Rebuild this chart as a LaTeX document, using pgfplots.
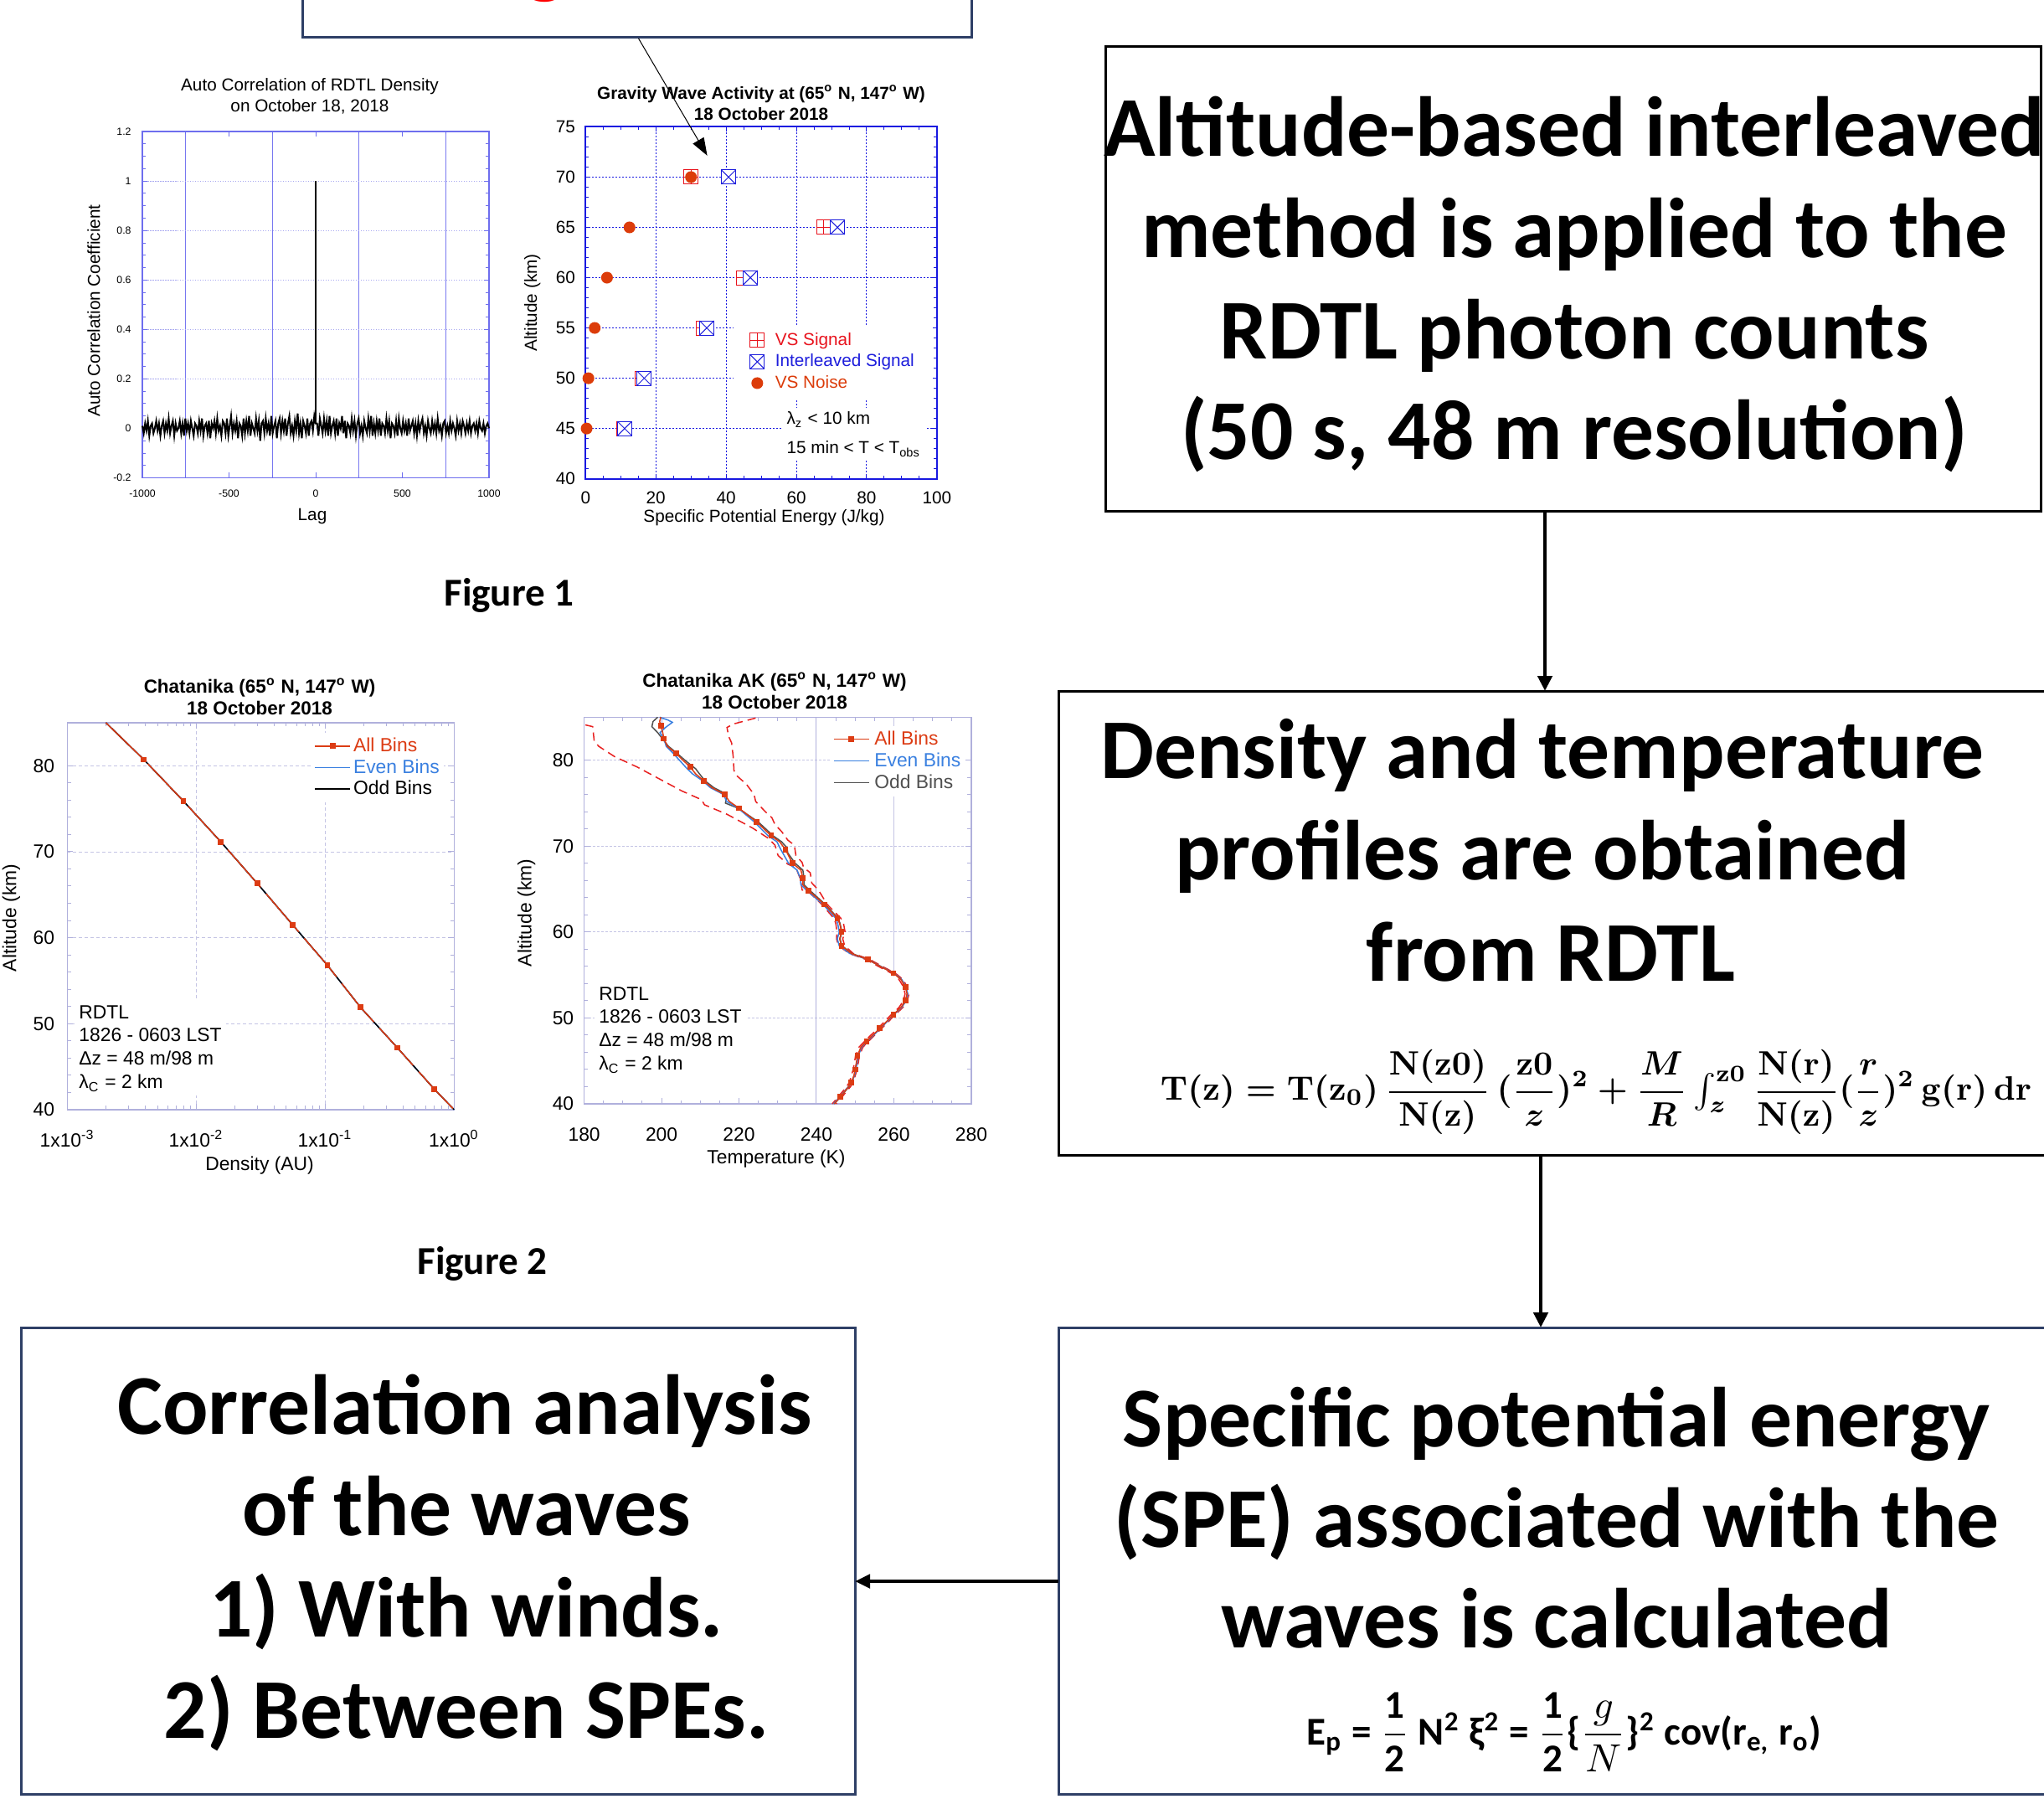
\documentclass[border=0pt]{standalone}
\usepackage{fontspec}
\setmainfont{Liberation Sans}
\newfontfamily\calib{Carlito}
\usepackage{pgfplots}
\pgfplotsset{compat=1.18}
\usetikzlibrary{arrows.meta}

\definecolor{acframe}{HTML}{6E6EEE}
\definecolor{acgridv}{HTML}{7878F0}
\definecolor{acgridh}{HTML}{A8A8F0}
\definecolor{gwblue}{HTML}{1818E0}
\definecolor{vsred}{HTML}{E8141E}
\definecolor{ilblue}{HTML}{1E1EDC}
\definecolor{noisec}{HTML}{DC3C0A}
\definecolor{lavframe}{HTML}{B0B0DC}
\definecolor{lavgrid}{HTML}{C4C4E4}
\definecolor{allc}{HTML}{DC3C14}
\definecolor{evenc}{HTML}{3A80E0}
\definecolor{oddc}{HTML}{505050}
\definecolor{dashc}{HTML}{E82020}
\definecolor{navy}{HTML}{2E3F66}

\newcommand\cfA{\fontsize{5.9}{7.1}\selectfont}
\newcommand\cfB{\fontsize{5.9}{7.1}\selectfont}
\newcommand\cfC{\fontsize{6.5}{7.8}\selectfont}
\newcommand\bigtext{\calib\bfseries\fontsize{28.9}{34}\selectfont}

% open square with a plus / with a cross
\pgfdeclareplotmark{boxplus}{%
  \pgfpathrectangle{\pgfqpoint{-\pgfplotmarksize}{-\pgfplotmarksize}}{\pgfqpoint{2\pgfplotmarksize}{2\pgfplotmarksize}}%
  \pgfusepathqfillstroke
  \pgfpathmoveto{\pgfqpoint{-\pgfplotmarksize}{0pt}}\pgfpathlineto{\pgfqpoint{\pgfplotmarksize}{0pt}}%
  \pgfpathmoveto{\pgfqpoint{0pt}{-\pgfplotmarksize}}\pgfpathlineto{\pgfqpoint{0pt}{\pgfplotmarksize}}%
  \pgfusepathqstroke}
\pgfdeclareplotmark{boxtimes}{%
  \pgfpathrectangle{\pgfqpoint{-\pgfplotmarksize}{-\pgfplotmarksize}}{\pgfqpoint{2\pgfplotmarksize}{2\pgfplotmarksize}}%
  \pgfusepathqfillstroke
  \pgfpathmoveto{\pgfqpoint{-\pgfplotmarksize}{-\pgfplotmarksize}}\pgfpathlineto{\pgfqpoint{\pgfplotmarksize}{\pgfplotmarksize}}%
  \pgfpathmoveto{\pgfqpoint{-\pgfplotmarksize}{\pgfplotmarksize}}\pgfpathlineto{\pgfqpoint{\pgfplotmarksize}{-\pgfplotmarksize}}%
  \pgfusepathqstroke}

\pgfplotsset{
  panel/.style={scale only axis, clip=false,
    /pgf/number format/assume math mode=true, /pgf/number format/1000 sep={},
    tick align=inside},
  binlegend/.style={legend cell align=left,
    legend image code/.code={\draw[mark repeat=2,mark phase=2,##1] plot coordinates {(0mm,0mm) (2.1mm,0mm) (4.2mm,0mm)};}},
  marklegend/.style={legend cell align=left,
    legend image code/.code={\draw[##1] plot coordinates {(0mm,0mm)};}},
}

\begin{document}
\begin{tikzpicture}
\path[use as bounding box] (0mm,0mm) rectangle (244.1mm,-214.8mm);
\begin{scope}[x=0.1mm,y=-0.1mm]
  \coordinate (F1a) at (170,157);
  \coordinate (F1b) at (699.3,151.4);
  \coordinate (F2a) at (80.4,862.9);
  \coordinate (F2b) at (697.6,856.3);
\end{scope}

% ---------- Auto correlation of density ----------
\begin{axis}[panel, at={(F1a)}, anchor=north west, width=41.4mm, height=41.35mm,
  xmin=-1000, xmax=1000, ymin=-0.2, ymax=1.2,
  xtick={-1000,-500,0,500,1000}, minor xtick={-750,-250,250,750},
  ytick={-0.2,0,0.2,0.4,0.6,0.8,1,1.2}, minor y tick num=3,
  xminorgrids=true, ymajorgrids=true,
  minor x grid style={draw=acgridv, line width=0.12mm},
  major y grid style={draw=acgridh, line width=0.08mm, dash pattern=on 0.15mm off 0.15mm},
  axis line style={draw=acframe, line width=0.12mm},
  every tick/.style={draw=acframe, line width=0.08mm},
  major tick length=0.6mm, minor tick length=0.35mm,
  tick label style={font=\fontsize{3.5}{4.2}\selectfont},
  xticklabel style={yshift=-0.2mm}, yticklabel style={xshift=-0.1mm},
]
\addplot[black, line width=0.2mm] table[row sep=\\, header=false, x expr=\coordindex*8-1000, y index=0] {
0.01\\ -0.02\\ 0.02\\ -0.01\\ 0.03\\ -0.03\\ 0.01\\ 0.02\\ -0.02\\ 0.00\\
0.03\\ -0.01\\ 0.02\\ -0.03\\ 0.01\\ 0.03\\ -0.02\\ 0.02\\ -0.01\\ 0.04\\
-0.02\\ 0.01\\ 0.03\\ -0.03\\ 0.02\\ -0.01\\ 0.00\\ 0.03\\ -0.02\\ 0.02\\
-0.03\\ 0.04\\ -0.01\\ 0.02\\ -0.02\\ 0.03\\ 0.00\\ -0.03\\ 0.02\\ 0.01\\
-0.02\\ 0.03\\ -0.01\\ 0.04\\ -0.03\\ 0.01\\ 0.02\\ -0.02\\ 0.03\\ -0.04\\
0.02\\ 0.00\\ 0.03\\ -0.02\\ 0.04\\ -0.01\\ 0.01\\ -0.03\\ 0.03\\ 0.02\\
-0.02\\ 0.04\\ -0.03\\ 0.01\\ 0.05\\ -0.02\\ 0.02\\ -0.01\\ 0.03\\ -0.04\\
0.02\\ 0.01\\ -0.03\\ 0.04\\ -0.02\\ 0.03\\ -0.01\\ 0.05\\ -0.03\\ 0.02\\
0.00\\ -0.02\\ 0.04\\ -0.01\\ 0.03\\ -0.05\\ 0.02\\ 0.03\\ -0.02\\ 0.04\\
-0.01\\ 0.02\\ -0.03\\ 0.05\\ -0.02\\ 0.01\\ 0.03\\ -0.04\\ 0.02\\ 0.04\\
-0.02\\ 0.03\\ -0.01\\ 0.04\\ -0.03\\ 0.02\\ 0.05\\ -0.02\\ 0.01\\ -0.03\\
0.03\\ -0.01\\ 0.06\\ -0.02\\ 0.02\\ -0.04\\ 0.03\\ 0.01\\ -0.02\\ 0.04\\
-0.03\\ 0.02\\ 0.03\\ -0.01\\ 0.05\\ 0.02\\ 0.02\\ -0.03\\ 0.04\\ 0.01\\
-0.02\\ 0.04\\ -0.01\\ 0.03\\ -0.03\\ 0.05\\ -0.02\\ 0.01\\ 0.03\\ -0.02\\
0.04\\ -0.03\\ 0.02\\ 0.00\\ 0.05\\ -0.02\\ 0.03\\ -0.04\\ 0.02\\ 0.01\\
-0.02\\ 0.04\\ -0.01\\ 0.03\\ -0.03\\ 0.02\\ 0.04\\ -0.02\\ 0.01\\ -0.03\\
0.03\\ 0.00\\ -0.02\\ 0.04\\ -0.01\\ 0.05\\ -0.03\\ 0.02\\ -0.02\\ 0.03\\
-0.01\\ 0.04\\ -0.03\\ 0.02\\ 0.01\\ -0.02\\ 0.04\\ -0.01\\ 0.03\\ -0.04\\
0.02\\ 0.01\\ -0.02\\ 0.03\\ -0.03\\ 0.04\\ 0.00\\ -0.02\\ 0.03\\ -0.01\\
0.02\\ -0.03\\ 0.04\\ -0.01\\ 0.01\\ 0.03\\ -0.02\\ 0.02\\ -0.03\\ 0.03\\
-0.01\\ 0.02\\ 0.04\\ -0.02\\ 0.01\\ -0.03\\ 0.03\\ 0.00\\ -0.02\\ 0.03\\
-0.01\\ 0.02\\ -0.02\\ 0.04\\ -0.01\\ 0.01\\ -0.03\\ 0.02\\ 0.03\\ -0.02\\
0.01\\ -0.02\\ 0.03\\ -0.01\\ 0.02\\ 0.00\\ -0.03\\ 0.03\\ -0.01\\ 0.02\\
-0.02\\ 0.03\\ 0.01\\ -0.02\\ 0.02\\ -0.01\\ 0.03\\ -0.02\\ 0.01\\ 0.02\\
-0.01\\ 0.02\\ -0.02\\ 0.03\\ 0.00\\ -0.01\\ 0.02\\ -0.02\\ 0.01\\ 0.02\\
0.00\\
};
\addplot[black, line width=0.15mm] coordinates {(0,0.02) (0,1)};
\end{axis}

% ---------- Specific potential energy ----------
\begin{axis}[panel, marklegend, at={(F1b)}, anchor=north west, width=41.96mm, height=42.03mm,
  font=\cfB, tick label style={font=\cfB},
  xmin=0, xmax=100, ymin=40, ymax=75,
  xtick={0,20,40,60,80,100}, ytick={40,45,50,55,60,65,70,75},
  minor x tick num=3, minor y tick num=4,
  xmajorgrids, ymajorgrids,
  major grid style={draw=gwblue, line width=0.1mm, dash pattern=on 0.2mm off 0.2mm},
  axis line style={draw=gwblue, line width=0.2mm},
  every tick/.style={draw=gwblue, line width=0.1mm},
  major tick length=0.6mm, minor tick length=0.4mm,
  xticklabel style={yshift=-0.3mm}, yticklabel style={xshift=0mm},
  legend style={at={(rel axis cs:0.419,0.4394)}, anchor=north west, draw=none, fill=white,
    font=\cfB, row sep=0mm, column sep=1.05mm, inner xsep=2mm, inner ysep=0.6mm,
    nodes={inner sep=0.25mm, text height=1.6mm, text depth=0.45mm}},
]
\addplot[vsred, only marks, mark=boxplus, mark size=0.85mm, mark options={fill=white, line width=0.1mm}]
  coordinates {(30.0,70) (67.8,65) (44.9,60) (33.5,55) (16.2,50) (10.8,45)};
\addlegendentry{\textcolor{vsred}{VS Signal}}
\addplot[ilblue, only marks, mark=boxtimes, mark size=0.85mm, mark options={fill=white, line width=0.1mm}]
  coordinates {(40.7,70) (71.7,65) (46.9,60) (34.5,55) (16.7,50) (11.1,45)};
\addlegendentry{\textcolor{ilblue}{Interleaved Signal}}
\addplot[noisec, only marks, mark=*, mark size=0.63mm]
  coordinates {(30.0,70) (12.5,65) (6.1,60) (2.6,55) (0.8,50) (0.3,45)};
\addlegendentry{\textcolor{noisec}{VS Noise}}
\node[anchor=north west, fill=white, align=left, font=\fontsize{5.9}{9.96}\selectfont, inner sep=0.5mm]
  at (rel axis cs:0.559,0.204) {λ\textsubscript{z} < 10 km\\15 min < T < T\textsubscript{obs}};
\end{axis}

% ---------- Density profile ----------
\begin{axis}[panel, binlegend, at={(F2a)}, anchor=north west, width=46.19mm, height=46.2mm,
  font=\cfC, tick label style={font=\cfC},
  xmode=log, xmin=1e-3, xmax=1, ymin=40, ymax=85,
  xtick={0.001,0.01,0.1,1},
  xticklabels={1x10\textsuperscript{-3},1x10\textsuperscript{-2},1x10\textsuperscript{-1},1x10\textsuperscript{0}},
  ytick={40,50,60,70,80}, minor y tick num=4,
  xmajorgrids, ymajorgrids,
  major grid style={draw=lavgrid, line width=0.08mm, dash pattern=on 0.4mm off 0.3mm},
  axis line style={draw=lavframe, line width=0.12mm},
  every tick/.style={draw=lavframe, line width=0.1mm},
  major tick length=0.7mm, minor tick length=0.45mm,
  xticklabel style={yshift=-1.2mm}, yticklabel style={xshift=-0.3mm},
  legend style={at={(rel axis cs:0.631,0.975)}, anchor=north west, draw=none, fill=white,
    font=\cfC, row sep=0mm, column sep=0.1mm, inner sep=0.3mm,
    nodes={inner sep=0.2mm, text height=1.75mm, text depth=0.4mm}},
]
\addlegendimage{allc, line width=0.15mm, mark=square*, mark size=0.27mm}
\addlegendentry{\textcolor{allc}{All Bins}}
\addlegendimage{evenc, line width=0.15mm}
\addlegendentry{\textcolor{evenc}{Even Bins}}
\addlegendimage{black, line width=0.15mm}
\addlegendentry{Odd Bins}
\addplot[evenc, line width=0.15mm, forget plot] coordinates {
 (0.00199,85) (0.00393,80.7) (0.00794,75.9) (0.0155,71.15) (0.0298,66.3) (0.0559,61.5)
 (0.104,56.8) (0.188,51.9) (0.363,47.2) (0.701,42.4) (1.0,40)};
\addplot[black, line width=0.15mm, forget plot] coordinates {
 (0.00199,85) (0.00393,80.7) (0.00794,75.9) (0.0155,71.15) (0.0298,66.3) (0.0559,61.5)
 (0.104,56.8) (0.188,51.9) (0.363,47.2) (0.701,42.4) (1.0,40)};
\addplot[allc, line width=0.15mm, dash pattern=on 6mm off 1mm, forget plot] coordinates {
 (0.00199,85) (0.00393,80.7) (0.00794,75.9) (0.0155,71.15) (0.0298,66.3) (0.0559,61.5)
 (0.104,56.8) (0.188,51.9) (0.363,47.2) (0.701,42.4) (1.0,40)};
\addplot[allc, only marks, mark=square*, mark size=0.27mm, forget plot] coordinates {
 (0.00393,80.7) (0.00794,75.9) (0.0155,71.15) (0.0298,66.3) (0.0559,61.5)
 (0.104,56.8) (0.188,51.9) (0.363,47.2) (0.701,42.4)};
\node[anchor=north west, fill=white, align=left, font=\fontsize{6.5}{7.9}\selectfont, inner sep=0.5mm]
  at (rel axis cs:0.018,0.282) {RDTL\\1826 - 0603 LST\\Δz = 48 m/98 m\\λ\textsubscript{C} = 2 km};
\end{axis}

% ---------- Temperature profile ----------
\begin{axis}[panel, binlegend, at={(F2b)}, anchor=north west, width=46.23mm, height=46.17mm,
  font=\cfC, tick label style={font=\cfC},
  xmin=180, xmax=280, ymin=40, ymax=85,
  xtick={180,200,220,240,260,280}, ytick={40,50,60,70,80},
  minor x tick num=3, minor y tick num=4,
  ymajorgrids,
  major grid style={draw=lavgrid, line width=0.08mm, dash pattern=on 0.3mm off 0.2mm},
  axis line style={draw=lavframe, line width=0.12mm},
  every tick/.style={draw=lavframe, line width=0.1mm},
  major tick length=0.7mm, minor tick length=0.45mm,
  xticklabel style={yshift=-1.65mm}, yticklabel style={xshift=0mm},
  legend style={at={(rel axis cs:0.635,0.979)}, anchor=north west, draw=none, fill=white,
    font=\cfC, row sep=0mm, column sep=0.4mm, inner sep=0.3mm,
    nodes={inner sep=0.2mm, text height=1.75mm, text depth=0.45mm}},
]
\draw[lavframe, line width=0.1mm] (axis cs:240,40) -- (axis cs:240,85);
\draw[lavgrid, line width=0.1mm] (axis cs:260,55.4) -- (axis cs:260,85);
\addlegendimage{allc, line width=0.15mm, mark=square*, mark size=0.27mm}
\addlegendentry{\textcolor{allc}{All Bins}}
\addlegendimage{evenc, line width=0.15mm}
\addlegendentry{\textcolor{evenc}{Even Bins}}
\addlegendimage{oddc, line width=0.15mm}
\addlegendentry{\textcolor{oddc}{Odd Bins}}
% uncertainty envelope
\addplot[dashc, line width=0.15mm, dash pattern=on 1mm off 0.6mm, forget plot] coordinates {
 (180.3,84.1) (182.2,83.9) (182.6,82.2) (183.8,81.6) (187.9,80.4) (193.7,79.2) (199.5,77.8)
 (205.3,76.4) (210.3,75.4) (211.1,74.8) (216.9,73.7) (223.5,72.1) (227.6,70.9) (229.3,70.1)
 (230.1,68.9) (232.6,67.9) (234.7,67.5) (235.9,66.1) (236.3,64.9) (238.4,64.5) (241.4,63.2)
 (244.5,61.6) (245.0,61.0) (245.3,60.0) (245.2,59.2) (245.7,58.4) (248.5,57.5) (252.8,56.8)
 (256.0,56.0) (259.4,55.2) (261.3,54.5) (262.5,53.6) (262.9,52.8) (262.5,52.0) (261.3,51.2)
 (259.4,50.4) (255.9,48.8) (252.5,47.3) (251.0,46.6) (250.1,45.6) (249.9,45.0) (249.5,44.0)
 (248.5,42.5) (247.8,42.0) (245.6,40.8) (244.1,40.0)};
\addplot[dashc, line width=0.15mm, dash pattern=on 1mm off 0.6mm, forget plot] coordinates {
 (224.3,84.9) (218.5,84.2) (216.9,83.8) (217.3,82.8) (218.1,82.0) (218.5,80.4) (218.7,78.8)
 (219.4,78.2) (221.9,77.2) (223.9,76.0) (224.3,75.2) (226.8,74.0) (228.5,73.3) (229.3,72.5)
 (231.0,71.7) (232.6,70.7) (234.3,70.1) (234.7,68.9) (236.3,68.1) (236.7,67.5) (238.4,66.9)
 (238.8,65.7) (240.5,64.9) (242.8,63.2) (246.3,61.6) (247.0,61.0) (247.4,60.0) (246.8,59.2)
 (247.3,58.4) (249.5,57.5) (253.8,56.8) (257.0,56.0) (260.4,55.2) (262.3,54.5) (263.5,53.6)
 (263.9,52.8) (263.5,52.0) (262.3,51.2) (260.4,50.4) (256.9,48.8) (253.5,47.3) (252.0,46.6)
 (251.1,45.6) (250.9,45.0) (250.5,44.0) (249.5,42.5) (248.8,42.0) (246.6,40.8) (245.1,40.0)};
% odd bins
\addplot[oddc, line width=0.15mm, forget plot] coordinates {
 (244.6,40.0) (246.2,40.8) (248.4,42.0) (249.1,42.5) (249.8,43.3) (250.1,44.0) (250.5,45.0)
 (250.7,45.6) (251.6,46.6) (253.1,47.3) (256.5,48.8) (260.0,50.4) (261.9,51.2) (263.1,52.0)
 (263.5,52.8) (263.1,53.6) (261.9,54.5) (260.0,55.2) (256.6,56.0) (253.4,56.8) (249.1,57.5)
 (246.6,58.4) (246.1,59.2) (246.6,60.0) (246.1,61.0) (245.6,61.6) (242.3,63.2) (238.4,64.8)
 (236.8,65.5) (236.8,66.3) (236.5,67.2) (234.5,68.0) (232.6,69.2) (232.4,69.8) (231.0,70.5)
 (228.8,71.2) (225.0,72.8) (219.8,74.4) (216.5,75.0) (216.9,76.0) (213.5,76.8) (211.2,77.6)
 (209.8,78.4) (208.8,79.0) (206.0,80.0) (204.0,80.8) (201.8,81.6) (200.2,82.5) (199.0,83.2)
 (197.5,83.9) (197.8,84.5) (199.0,85.0)};
% even bins
\addplot[evenc, line width=0.15mm, forget plot] coordinates {
 (244.4,40.0) (246.0,40.8) (248.2,42.0) (249.1,42.5) (249.8,43.3) (250.2,44.0) (250.6,45.0)
 (250.8,45.6) (251.7,46.6) (253.2,47.3) (256.6,48.8) (260.0,50.4) (262.0,51.2) (263.2,52.0)
 (263.6,52.8) (263.2,53.6) (262.0,54.5) (260.0,55.2) (256.6,56.0) (253.2,56.8) (248.6,57.5)
 (245.9,58.4) (245.4,59.2) (245.9,60.0) (245.5,61.0) (245.0,61.6) (241.7,63.2) (237.6,64.8)
 (236.0,65.5) (235.8,66.3) (235.0,67.2) (232.8,68.0) (230.8,69.6) (229.8,70.5) (227.5,71.2)
 (224.0,72.8) (219.8,74.4) (216.8,75.2) (216.0,76.0) (212.6,76.8) (210.6,77.6) (208.0,78.4)
 (206.2,79.2) (204.6,80.0) (203.0,80.8) (201.2,81.6) (200.6,82.5) (199.6,83.2) (201.0,83.8)
 (202.8,84.4) (201.5,84.7) (199.5,85.0)};
% all bins
\addplot[allc, line width=0.15mm, forget plot] coordinates {
 (244.6,40.0) (246.1,40.8) (248.3,42.0) (249.0,42.5) (249.7,43.3) (250.0,44.0) (250.4,45.0)
 (250.6,45.6) (251.5,46.6) (253.0,47.3) (256.4,48.8) (259.9,50.4) (261.8,51.2) (263.0,52.0)
 (263.4,52.8) (263.0,53.6) (261.8,54.5) (259.9,55.2) (256.5,56.0) (253.3,56.8) (249.0,57.5)
 (246.5,58.4) (246.0,59.2) (246.5,60.0) (246.0,61.0) (245.4,61.6) (242.1,63.2) (238.0,64.8)
 (236.5,65.5) (236.5,66.3) (236.0,67.2) (233.8,68.0) (232.0,69.6) (230.5,70.5) (228.3,71.2)
 (224.6,72.8) (220.0,74.4) (217.5,75.2) (216.3,76.0) (213.0,76.8) (210.9,77.6) (208.8,78.4)
 (207.4,79.2) (205.5,80.0) (203.7,80.8) (201.5,81.6) (200.6,82.5) (200.3,83.2) (199.8,84.0)
 (199.5,84.5) (199.8,85.0)};
\addplot[allc, only marks, mark=square*, mark size=0.27mm, forget plot] coordinates {
 (246.1,40.8) (249.0,42.5) (250.0,44.0) (250.6,45.6) (253.0,47.3) (256.4,48.8) (259.9,50.4)
 (263.0,52.0) (263.0,53.6) (259.9,55.2) (253.3,56.8) (246.5,58.4) (246.5,60.0) (245.4,61.6)
 (242.1,63.2) (238.0,64.8) (236.5,66.3) (233.8,68.0) (232.0,69.6) (228.3,71.2) (224.6,72.8)
 (220.0,74.4) (216.3,76.0) (210.9,77.6) (207.4,79.2) (203.7,80.8) (200.6,82.5) (199.8,84.0)};
\node[anchor=north west, fill=white, align=left, font=\fontsize{6.5}{7.9}\selectfont, inner sep=0.5mm]
  at (rel axis cs:0.026,0.3145) {RDTL\\1826 - 0603 LST\\Δz = 48 m/98 m\\λ\textsubscript{C} = 2 km};
\end{axis}

\begin{scope}[x=0.1mm,y=-0.1mm]
  % chart titles and axis labels
  \node[font=\cfA, align=center] at (370,114.5) {Auto Correlation of RDTL Density\\on October 18, 2018};
  \node[font=\cfA, rotate=90] at (112,371) {Auto Correlation Coefficient};
  \node[font=\cfA] at (373,617) {Lag};

  \node[font=\fontsize{5.9}{7.1}\selectfont\bfseries, align=center] at (909,122.5) {Gravity Wave Activity at (65\textsuperscript{o} N, 147\textsuperscript{o} W)\\18 October 2018};
  \node[font=\cfB, rotate=90] at (635.7,361.5) {Altitude (km)};
  \node[font=\cfB] at (912.5,618.6) {Specific Potential Energy (J/kg)};

  \node[font=\fontsize{6.4}{7.5}\selectfont\bfseries, align=center] at (310,832) {Chatanika (65\textsuperscript{o} N, 147\textsuperscript{o} W)\\18 October 2018};
  \node[font=\cfC, rotate=90] at (13.4,1096) {Altitude (km)};
  \node[font=\cfC] at (310,1392) {Density (AU)};

  \node[font=\fontsize{6.4}{7.5}\selectfont\bfseries, align=center] at (925,825) {Chatanika AK (65\textsuperscript{o} N, 147\textsuperscript{o} W)\\18 October 2018};
  \node[font=\cfC, rotate=90] at (628.7,1090) {Altitude (km)};
  \node[font=\cfC] at (927,1384) {Temperature (K)};

  % pointer onto the SPE panel
  \draw[black, line width=0.1mm, -{Triangle[length=2.1mm,width=1.5mm]}] (762,45) -- (844.6,185.8);

  % figure captions
  \node[anchor=base, font=\calib\bfseries\fontsize{13.4}{15}\selectfont] at (608,723) {Figure 1};
  \node[anchor=base, font=\calib\bfseries\fontsize{13.4}{15}\selectfont] at (576,1521) {Figure 2};

  % box above the panels
  \draw[navy, line width=0.3mm] (361,-30) -- (361,45) -- (1160,45) -- (1160,-30);
  \node[anchor=base, text=red, font=\bigtext] at (652,-14) {g};

  % flow boxes
  \draw[black, line width=0.3mm] (1320,56) rectangle (2437,610);
  \draw[black, line width=0.3mm] (1264,825) rectangle (2470,1379);
  \draw[navy, line width=0.3mm] (1264,1585) rectangle (2470,2142);
  \draw[navy, line width=0.3mm] (25,1585) rectangle (1021,2142);

  \node[anchor=base, font=\bigtext] at (1880,187) {Altitude-based interleaved};
  \node[anchor=base, font=\bigtext] at (1880,307) {method is applied to the};
  \node[anchor=base, font=\bigtext] at (1880,428) {RDTL photon counts};
  \node[anchor=base, font=\bigtext] at (1880,548) {(50 s, 48 m resolution)};

  \node[anchor=base, font=\bigtext] at (1842,929) {Density and temperature};
  \node[anchor=base, font=\bigtext] at (1842,1050) {profiles are obtained};
  \node[anchor=base, font=\bigtext] at (1852,1171) {from RDTL};
  \node at (1906,1304) {\resizebox{104mm}{!}{\boldmath$\displaystyle \mathbf{T(z)} = \mathbf{T(z_0)}\,\frac{\mathbf{N(z0)}}{\mathbf{N(z)}}\,(\frac{\mathbf{z0}}{z})^{2} + \frac{M}{R}\textstyle\int_{z}^{\mathbf{z0}}\displaystyle\frac{\mathbf{N(r)}}{\mathbf{N(z)}}(\frac{r}{z})^{2}\,\mathbf{g(r)\,dr}$}};

  \node[anchor=base, font=\bigtext] at (1859,1727) {Specific potential energy};
  \node[anchor=base, font=\bigtext] at (1859,1847) {(SPE) associated with the};
  \node[anchor=base, font=\bigtext] at (1859,1967) {waves is calculated};
  \node at (1868,2068) {\resizebox{61.5mm}{!}{\calib\bfseries E\textsubscript{p} = $\displaystyle\frac{\mbox{1}}{\mbox{2}}$ N\textsuperscript{2} ξ\textsuperscript{2} = $\displaystyle\frac{\mbox{1}}{\mbox{2}}$\{$\displaystyle\frac{g}{N}$\}\textsuperscript{2} cov(r\textsubscript{e,} r\textsubscript{o})}};

  \node[anchor=base, font=\bigtext] at (555,1712) {Correlation analysis};
  \node[anchor=base, font=\bigtext] at (557,1833) {of the waves};
  \node[anchor=base, font=\bigtext] at (557,1954) {1) With winds.};
  \node[anchor=base, font=\bigtext] at (557,2075) {2) Between SPEs.};

  % flow arrows
  \draw[black, line width=0.45mm, -{Triangle[length=1.8mm,width=1.7mm]}] (1845,610) -- (1845,825);
  \draw[black, line width=0.45mm, -{Triangle[length=1.8mm,width=1.7mm]}] (1840,1379) -- (1840,1585);
  \draw[black, line width=0.45mm, -{Triangle[length=1.8mm,width=1.6mm]}] (1264,1888) -- (1021,1888);
\end{scope}
\end{tikzpicture}
\end{document}
